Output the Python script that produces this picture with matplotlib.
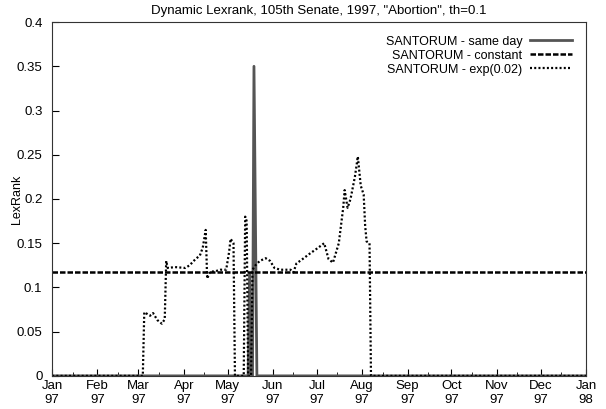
import numpy as np
import matplotlib
matplotlib.use("Agg")
import matplotlib.pyplot as plt
import matplotlib.dates as mdates

plt.rcParams['font.family'] = ['Liberation Sans', 'DejaVu Sans']

start = np.datetime64('1997-01-01')

# same day series (day offsets from Jan 1 1997)
same_days = [0, 134, 135, 136, 137, 138, 140, 365]
same_vals = [0, 0, 0.115, 0, 0, 0.35, 0, 0]

# constant series
const_val = 0.117

# exp(0.02) series
exp_days = [0, 62, 63, 67, 69, 72, 75, 77, 78, 79, 84, 91, 94, 98, 101, 103, 105,
            106, 108, 111, 115, 119, 121, 122, 124, 125, 131, 132, 133, 134, 136,
            137, 139, 142, 146, 149, 152, 156, 163, 165, 167, 172, 176, 182, 186,
            189, 192, 196, 199, 200, 202, 204, 207, 209, 211, 213, 214, 215, 217,
            218, 365]
exp_vals = [0, 0, 0.072, 0.068, 0.071, 0.063, 0.059, 0.064, 0.13, 0.122, 0.123,
            0.122, 0.125, 0.132, 0.136, 0.145, 0.165, 0.11, 0.118, 0.118, 0.12,
            0.12, 0.14, 0.155, 0.15, 0, 0, 0.18, 0.175, 0, 0, 0.12, 0.125, 0.13,
            0.133, 0.13, 0.122, 0.12, 0.12, 0.117, 0.127, 0.133, 0.138, 0.145,
            0.15, 0.132, 0.128, 0.15, 0.19, 0.21, 0.19, 0.2, 0.225, 0.248, 0.215,
            0.205, 0.17, 0.152, 0.15, 0, 0]

def to_dates(days):
    return (start + np.array(days).astype('timedelta64[D]')).astype('datetime64[D]')

fig = plt.figure(figsize=(6.06, 4.09), dpi=100)
ax = fig.add_axes([0.086, 0.081, 0.881, 0.865])

ax.plot(to_dates(same_days), same_vals, color='#555555', lw=2.0,
        label='SANTORUM - same day')
ax.plot(to_dates([0, 365]), [const_val, const_val], color='black', lw=1.8,
        ls=(0, (2.2, 0.8)), label='SANTORUM - constant')
ax.plot(to_dates(exp_days), exp_vals, color='black', lw=1.6, ls=(0, (0.9, 1.0)),
        label='SANTORUM - exp(0.02)')

ax.set_xlim(to_dates([0])[0], to_dates([365])[0])
ax.set_ylim(0, 0.4)
ax.set_yticks(np.arange(0, 0.401, 0.05))
ax.set_yticklabels(['0', '0.05', '0.1', '0.15', '0.2', '0.25', '0.3', '0.35', '0.4'])

ax.xaxis.set_major_locator(mdates.MonthLocator())
ax.xaxis.set_major_formatter(mdates.DateFormatter('%b\n%y'))
ax.xaxis.set_minor_locator(mdates.MonthLocator(bymonthday=15))
ax.tick_params(axis='both', which='both', direction='in', labelsize=9.5,
               top=False, right=False)
ax.tick_params(axis='both', which='major', length=5)
ax.tick_params(axis='x', which='major', pad=3)
ax.tick_params(axis='y', which='major', pad=7)
ax.tick_params(axis='x', which='minor', length=3)
for s in ax.spines.values():
    s.set_linewidth(0.8)
    s.set_color('#333333')

ax.set_ylabel('LexRank', fontsize=9)
ax.yaxis.set_label_coords(-0.055, 0.5)
ax.set_title('Dynamic Lexrank, 105th Senate, 1997, "Abortion", th=0.1',
             fontsize=9.5, pad=6)

leg = ax.legend(loc='upper right', frameon=False, markerfirst=False,
                fontsize=9, handlelength=3.4, labelspacing=0.15,
                borderaxespad=0.7, handletextpad=0.6)

fig.savefig('out.png', dpi=100)
